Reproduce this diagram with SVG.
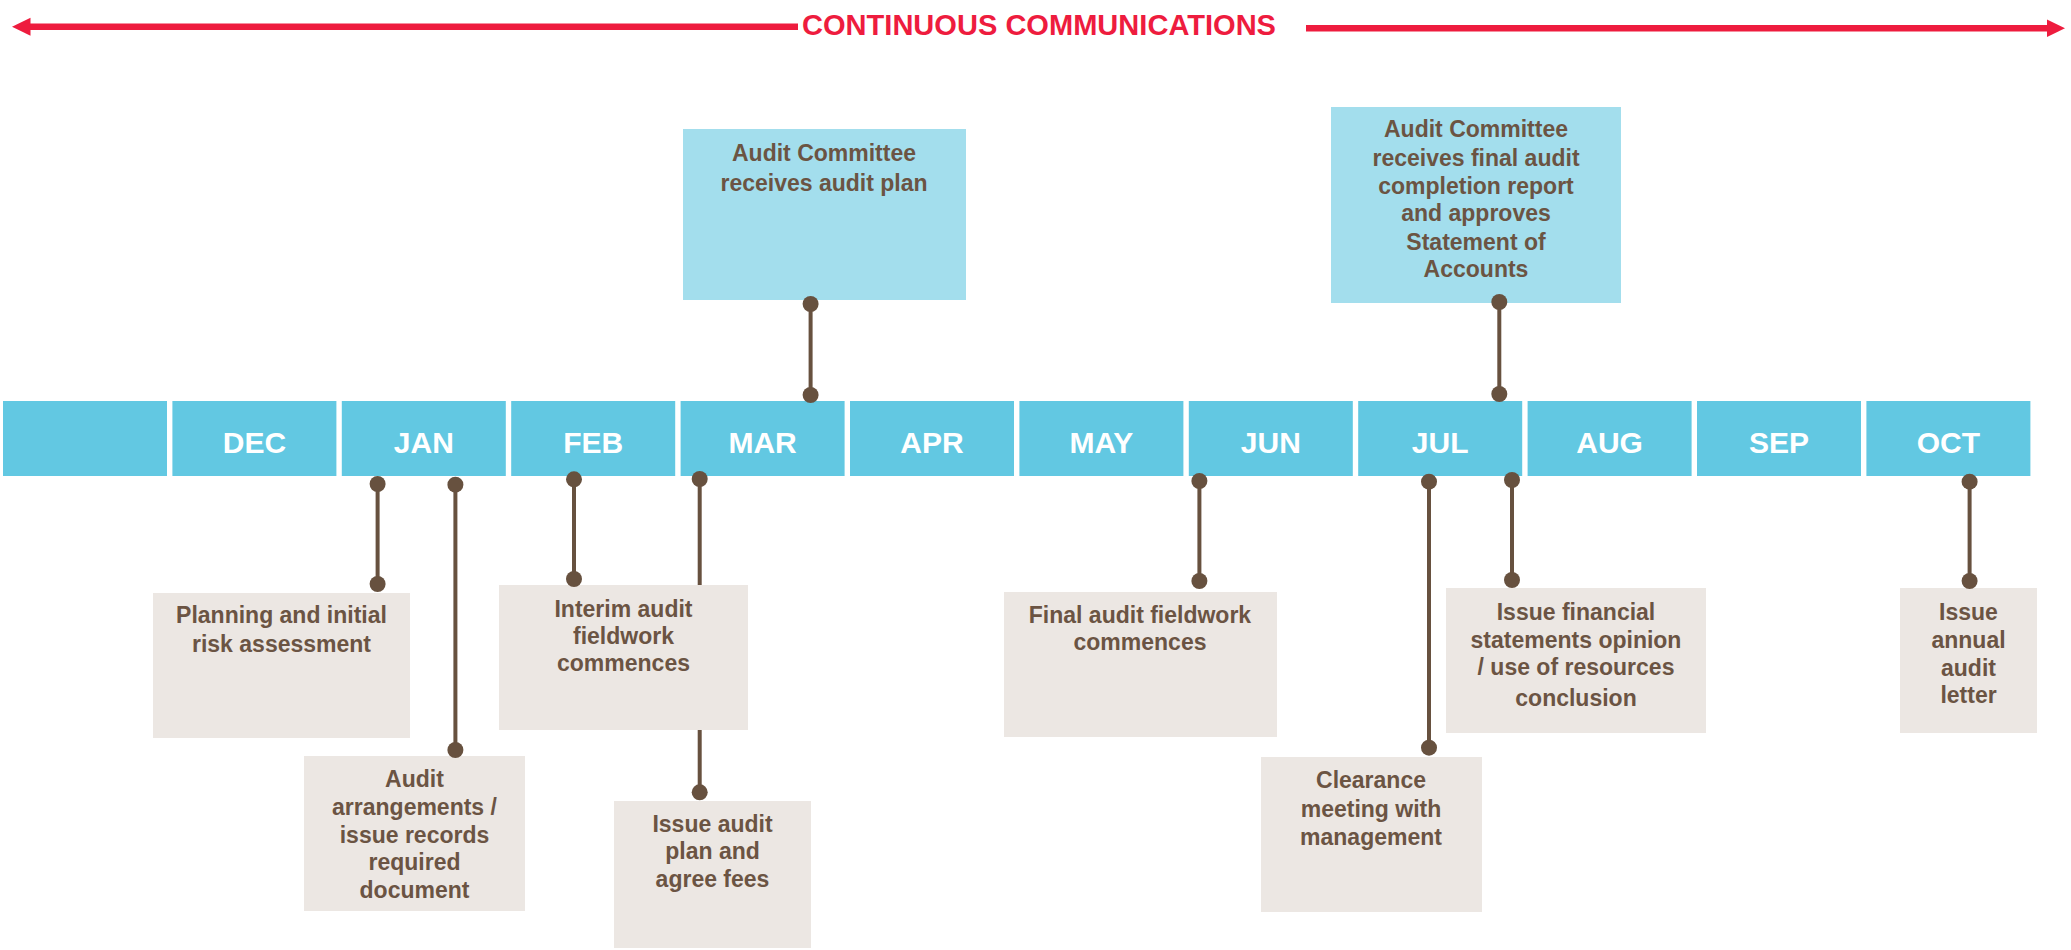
<svg xmlns="http://www.w3.org/2000/svg" width="2071" height="950" viewBox="0 0 2071 950">
<style>
.title{font-family:"Liberation Sans",Arial,sans-serif;font-weight:bold;font-size:29px;fill:#EE1C3E}
.red{fill:#EE1C3E}
.month rect{fill:#62C8E2}
.month text{font-family:"Liberation Sans",Arial,sans-serif;font-weight:bold;font-size:30px;fill:#FFFFFF;text-anchor:middle}
.up rect{fill:#A3DEED}
.down rect{fill:#ECE7E3}
.node text{font-family:"Liberation Sans",Arial,sans-serif;font-weight:bold;font-size:23px;fill:#6B5443;text-anchor:middle}
.conn path{stroke:#67513F;stroke-width:4;fill:none}
.conn circle{fill:#67513F}
</style>
<g id="comms">
<rect class="red" x="29" y="23.5" width="769" height="6.5"/>
<polygon class="red" points="12,26.7 30.5,17.7 30.5,35.7"/>
<rect class="red" x="1306" y="25" width="742" height="6.5"/>
<polygon class="red" points="2065,28.3 2047,19.5 2047,37"/>
<text class="title" x="802" y="35" textLength="474" lengthAdjust="spacingAndGlyphs">CONTINUOUS COMMUNICATIONS</text>
</g>
<g id="months" class="month">
<g id="m0"><rect x="3" y="401" width="164" height="75"/></g>
<g id="m-dec"><rect x="172.4" y="401" width="164" height="75"/><text x="254.4" y="453">DEC</text></g>
<g id="m-jan"><rect x="341.8" y="401" width="164" height="75"/><text x="423.8" y="453">JAN</text></g>
<g id="m-feb"><rect x="511.2" y="401" width="164" height="75"/><text x="593.2" y="453">FEB</text></g>
<g id="m-mar"><rect x="680.6" y="401" width="164" height="75"/><text x="762.6" y="453">MAR</text></g>
<g id="m-apr"><rect x="850" y="401" width="164" height="75"/><text x="932" y="453">APR</text></g>
<g id="m-may"><rect x="1019.4" y="401" width="164" height="75"/><text x="1101.4" y="453">MAY</text></g>
<g id="m-jun"><rect x="1188.8" y="401" width="164" height="75"/><text x="1270.8" y="453">JUN</text></g>
<g id="m-jul"><rect x="1358.2" y="401" width="164" height="75"/><text x="1440.2" y="453">JUL</text></g>
<g id="m-aug"><rect x="1527.6" y="401" width="164" height="75"/><text x="1609.6" y="453">AUG</text></g>
<g id="m-sep"><rect x="1697" y="401" width="164" height="75"/><text x="1779" y="453">SEP</text></g>
<g id="m-oct"><rect x="1866.4" y="401" width="164" height="75"/><text x="1948.4" y="453">OCT</text></g>
</g>
<g id="n-ac-plan" class="node up"><rect x="683" y="129" width="283" height="171"/>
<text x="824" y="161">Audit Committee</text><text x="824" y="191">receives audit plan</text></g>
<g id="n-ac-final" class="node up"><rect x="1331" y="107" width="290" height="196"/>
<text x="1476" y="137">Audit Committee</text><text x="1476" y="165.5">receives final audit</text><text x="1476" y="193.5">completion report</text><text x="1476" y="221">and approves</text><text x="1476" y="249.5">Statement of</text><text x="1476" y="277">Accounts</text></g>
<g id="n-planning" class="node down"><rect x="153" y="593" width="257" height="145"/>
<text x="281.5" y="623">Planning and initial</text><text x="281.5" y="651.5">risk assessment</text></g>
<g id="n-arrangements" class="node down"><rect x="304" y="756" width="221" height="155"/>
<text x="414.5" y="787">Audit</text><text x="414.5" y="815">arrangements /</text><text x="414.5" y="842.5">issue records</text><text x="414.5" y="870">required</text><text x="414.5" y="898">document</text></g>
<g id="n-interim" class="node down"><rect x="499" y="585" width="249" height="145"/>
<text x="623.5" y="617">Interim audit</text><text x="623.5" y="643.5">fieldwork</text><text x="623.5" y="671">commences</text></g>
<g id="n-plan-fees" class="node down"><rect x="614" y="801" width="197" height="147"/>
<text x="712.5" y="832">Issue audit</text><text x="712.5" y="859">plan and</text><text x="712.5" y="887">agree fees</text></g>
<g id="n-final" class="node down"><rect x="1004" y="592" width="273" height="145"/>
<text x="1140" y="623">Final audit fieldwork</text><text x="1140" y="650">commences</text></g>
<g id="n-clearance" class="node down"><rect x="1261" y="757" width="221" height="155"/>
<text x="1371" y="788">Clearance</text><text x="1371" y="817">meeting with</text><text x="1371" y="845">management</text></g>
<g id="n-opinion" class="node down"><rect x="1446" y="588" width="260" height="145"/>
<text x="1576" y="620">Issue financial</text><text x="1576" y="648">statements opinion</text><text x="1576" y="674.5">/ use of resources</text><text x="1576" y="706">conclusion</text></g>
<g id="n-letter" class="node down"><rect x="1900" y="588" width="137" height="145"/>
<text x="1968.5" y="620">Issue</text><text x="1968.5" y="648">annual</text><text x="1968.5" y="676">audit</text><text x="1968.5" y="703">letter</text></g>
<g id="connectors" class="conn">
<path d="M810.6 304V395"/><circle cx="810.6" cy="304" r="8"/><circle cx="810.6" cy="395" r="8"/>
<path d="M1499.3 302V394"/><circle cx="1499.3" cy="302" r="8"/><circle cx="1499.3" cy="394" r="8"/>
<path d="M377.6 484V584"/><circle cx="377.6" cy="484" r="8"/><circle cx="377.6" cy="584" r="8"/>
<path d="M455.4 484.7V750"/><circle cx="455.4" cy="484.7" r="8"/><circle cx="455.4" cy="750" r="8"/>
<path d="M574 479.3V579"/><circle cx="574" cy="479.3" r="8"/><circle cx="574" cy="579" r="8"/>
<path d="M699.7 479V585M699.7 730V792.3"/><circle cx="699.7" cy="479" r="8"/><circle cx="699.7" cy="792.3" r="8"/>
<path d="M1199.4 481V581"/><circle cx="1199.4" cy="481" r="8"/><circle cx="1199.4" cy="581" r="8"/>
<path d="M1429 481.7V747.7"/><circle cx="1429" cy="481.7" r="8"/><circle cx="1429" cy="747.7" r="8"/>
<path d="M1512 480V580"/><circle cx="1512" cy="480" r="8"/><circle cx="1512" cy="580" r="8"/>
<path d="M1969.6 481.7V581"/><circle cx="1969.6" cy="481.7" r="8"/><circle cx="1969.6" cy="581" r="8"/>
</g>
</svg>
